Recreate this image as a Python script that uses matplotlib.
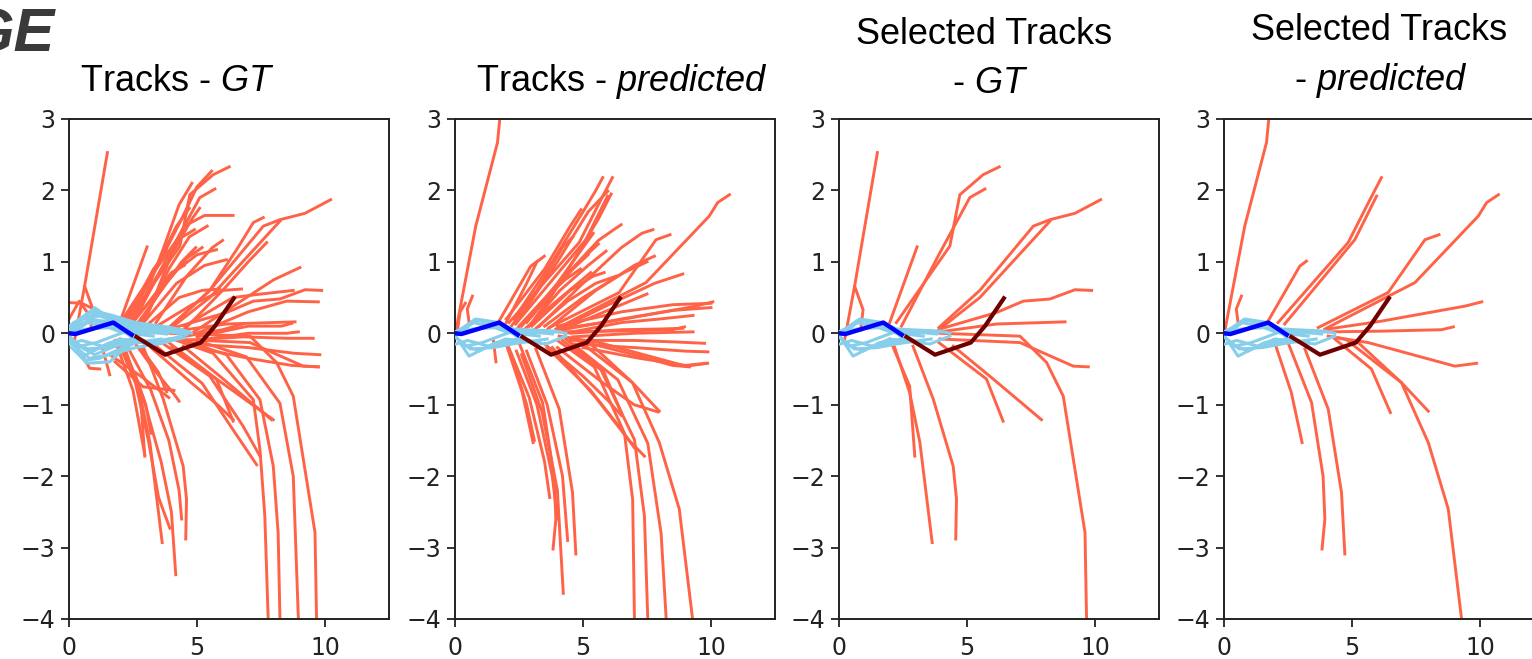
import matplotlib
matplotlib.use("Agg")
import matplotlib.pyplot as plt
from matplotlib import font_manager

# ---------------- data ----------------
ego_hist_x = [0.0, 0.25, 1.73, 2.45]
ego_hist_y = [0.0, -0.01, 0.15, -0.02]
ego_future_x = [2.63, 3.75, 5.15, 5.7, 6.44]
ego_future_y = [-0.05, -0.30, -0.13, 0.10, 0.49]

# light-blue history tracks of surrounding agents
hist_selected = [
    [(0.0, 0.0), (0.8, 0.2), (1.72, 0.15), (2.24, 0.06), (3.94, 0.03), (4.33, 0.0)],
    [(0.03, -0.04), (0.55, -0.32), (1.2, -0.2), (1.98, -0.08), (3.55, -0.15), (4.33, -0.04)],
    [(0.16, -0.13), (0.94, -0.25), (1.59, -0.13), (2.5, -0.08)],
    [(0.0, -0.01), (0.68, 0.06), (1.59, 0.08), (2.76, 0.03), (3.81, -0.01)],
    [(0.1, -0.08), (0.42, -0.18), (1.07, -0.13), (2.11, 0.01), (3.29, -0.04)],
    [(0.0, 0.02), (0.9, 0.18), (1.9, 0.1), (2.6, -0.1), (3.3, -0.12)],
    [(0.05, -0.15), (0.5, -0.1), (1.3, -0.18), (2.2, -0.12), (2.9, -0.1)],
    [(0.0, -0.05), (0.6, -0.22), (1.5, -0.2), (2.4, -0.14), (3.6, -0.08)],
    [(0.2, 0.0), (0.7, 0.15), (1.4, 0.1), (2.0, 0.02), (3.0, 0.0), (4.0, 0.02)],
]
hist_extra = [
    [(0.0, 0.0), (1.0, 0.36), (1.9, 0.13), (3.0, 0.08), (4.2, 0.03), (4.78, 0.0)],
    [(0.0, -0.05), (0.68, -0.42), (1.59, -0.4), (2.2, -0.2), (2.8, -0.1)],
    [(0.0, 0.0), (0.5, 0.2), (1.3, 0.25), (2.0, 0.1), (3.5, 0.05), (4.6, -0.02)],
    [(0.0, -0.1), (1.0, -0.3), (2.0, -0.15), (3.2, -0.12), (4.4, -0.05)],
    [(0.0, 0.05), (0.8, 0.3), (1.5, 0.2), (2.5, 0.12), (3.8, 0.06)],
    [(0.1, -0.2), (0.6, -0.38), (1.2, -0.35), (1.8, -0.25), (2.4, -0.15)],
    [(0.0, 0.1), (0.9, 0.32), (1.7, 0.25), (2.6, 0.15), (4.0, 0.08), (4.7, 0.02)],
    [(0.0, -0.12), (0.8, -0.35), (1.6, -0.3), (2.6, -0.2), (3.6, -0.14), (4.5, -0.06)],
    [(0.2, 0.15), (1.1, 0.28), (2.2, 0.18), (3.3, 0.1), (4.4, 0.05)],
]

# red future tracks: ground truth (selected subset + remaining)
gt_selected = [
    [(0.2, -0.13), (0.61, 0.66), (1.5, 2.53)],
    [(0.61, 0.66), (0.94, 0.33), (0.85, 0.05)],
    [(1.98, 0.15), (3.05, 1.21)],
    [(2.24, 0.15), (4.33, 1.22), (4.72, 1.94), (5.63, 2.22), (6.26, 2.33)],
    [(2.44, 0.10), (3.9, 1.1), (5.11, 1.9), (5.7, 2.02)],
    [(3.9, 0.08), (5.5, 0.6), (7.59, 1.5), (8.24, 1.59), (9.22, 1.68), (10.22, 1.87)],
    [(3.9, 0.05), (5.5, 0.5), (8.24, 1.57)],
    [(3.94, 0.06), (6.15, 0.29), (7.2, 0.45), (8.24, 0.48), (9.22, 0.61), (9.87, 0.6)],
    [(3.94, 0.02), (6.15, 0.13), (8.83, 0.16)],
    [(3.94, 0.0), (7.07, -0.04), (8.11, -0.41), (8.76, -0.88), (9.61, -2.79), (9.67, -4.0)],
    [(3.94, -0.08), (7.07, -0.13), (9.15, -0.46), (9.74, -0.47)],
    [(3.9, -0.13), (5.76, -0.64), (6.41, -1.23)],
    [(4.46, -0.18), (5.89, -0.6), (7.91, -1.21)],
    [(1.98, -0.08), (2.76, -0.74), (2.96, -1.72)],
    [(2.11, -0.13), (2.76, -0.83), (3.16, -1.53), (3.64, -2.93)],
    [(2.89, -0.18), (3.68, -0.92), (4.46, -1.86), (4.59, -2.32), (4.56, -2.88)],
]
gt_extra = [
    [(2.0, 0.1), (3.4, 0.9), (4.4, 1.6), (5.0, 2.05), (5.57, 2.27)],
    [(2.3, 0.1), (3.6, 0.9), (4.5, 1.5), (5.3, 1.65), (6.41, 1.65)],
    [(2.1, 0.2), (3.2, 0.8), (4.2, 1.3), (4.9, 1.45)],
    [(2.5, 0.15), (3.9, 0.8), (5.0, 1.1), (5.76, 1.17)],
    [(2.8, 0.1), (4.2, 0.7), (5.3, 0.95), (6.15, 1.03)],
    [(2.2, 0.15), (3.3, 0.9), (3.85, 1.15)],
    [(3.0, 0.1), (4.3, 0.5), (5.2, 0.6), (5.89, 0.62)],
    [(3.2, 0.05), (4.8, 0.4), (6.0, 0.6), (6.74, 0.62)],
    [(2.4, 0.2), (3.5, 1.0), (4.2, 1.5), (4.7, 1.75)],
    [(2.6, 0.1), (3.8, 0.7), (4.6, 1.05), (5.2, 1.2)],
    [(2.2, 0.05), (3.3, 0.5), (4.0, 0.85), (4.5, 0.95)],
    [(3.0, 0.2), (4.0, 1.1), (4.8, 1.6), (5.1, 1.75)],
    [(2.7, 0.25), (3.7, 1.2), (4.3, 1.8), (4.8, 2.1)],
    [(3.4, 0.15), (4.6, 0.8), (5.6, 1.2), (6.0, 1.3)],
    [(2.9, 0.15), (3.9, 0.9), (4.7, 1.35), (5.4, 1.5)],
    [(2.6, 0.05), (3.5, 0.55), (4.4, 1.0), (4.95, 1.2)],
    [(4.0, 0.1), (5.5, 0.6), (6.6, 1.2), (7.2, 1.55), (7.59, 1.62)],
    [(4.5, 0.05), (6.0, 0.6), (7.0, 1.0), (7.72, 1.27)],
    [(4.8, 0.0), (6.5, 0.4), (8.0, 0.75), (9.02, 0.92)],
    [(4.5, 0.1), (6.4, 0.5), (7.5, 0.55), (8.76, 0.6)],
    [(5.0, 0.0), (7.0, 0.3), (8.5, 0.45), (9.74, 0.44)],
    [(5.0, -0.05), (7.0, 0.1), (8.3, 0.1), (8.7, 0.14)],
    [(5.0, -0.1), (7.0, 0.0), (8.5, 0.0), (8.96, 0.02)],
    [(4.5, -0.1), (6.8, -0.05), (8.5, -0.07), (9.54, -0.07)],
    [(4.7, -0.15), (7.0, -0.2), (8.8, -0.28), (9.8, -0.3)],
    [(5.0, -0.2), (7.0, -0.35), (8.7, -0.45), (9.74, -0.47)],
    [(4.4, -0.05), (6.0, 0.05), (6.8, 0.13)],
    [(3.5, -0.1), (5.5, -0.6), (6.8, -1.3), (7.46, -1.72)],
    [(3.3, -0.15), (5.2, -0.7), (6.5, -1.4), (7.33, -1.84)],
    [(4.0, -0.2), (6.0, -0.7), (7.98, -1.21)],
    [(3.2, -0.2), (4.8, -0.7), (5.8, -1.0), (6.41, -1.21)],
    [(2.8, -0.2), (3.5, -0.55), (3.81, -0.82)],
    [(2.5, -0.1), (3.3, -0.5), (4.1, -0.85), (4.3, -0.95)],
    [(4.2, -0.1), (5.63, -0.28), (7.2, -0.93), (7.46, -1.63), (7.65, -2.56), (7.78, -4.0)],
    [(4.5, -0.1), (6.15, -0.3), (7.46, -0.93), (7.98, -1.86), (8.17, -2.8), (8.24, -4.0)],
    [(5.0, -0.1), (6.93, -0.33), (8.24, -0.98), (8.76, -2.0), (8.96, -4.0)],
    [(1.9, -0.1), (2.6, -0.7), (3.1, -1.5), (3.5, -2.3), (3.94, -2.73)],
    [(2.1, -0.15), (2.9, -0.9), (3.6, -1.8), (4.0, -2.5), (4.17, -3.38)],
    [(1.8, -0.1), (2.5, -0.8), (2.96, -1.7)],
    [(2.0, -0.2), (2.6, -0.6), (3.0, -1.0), (3.2, -1.4)],
    [(2.3, -0.2), (3.2, -0.8), (3.9, -1.5), (4.3, -2.2), (4.4, -2.6)],
    [(1.6, -0.3), (2.8, -0.6), (3.9, -0.9)],
    [(1.8, -0.4), (2.9, -0.75), (4.1, -0.8)],
    [(0.0, 0.43), (0.5, 0.42), (1.2, 0.3), (1.8, 0.2)],
    [(0.5, -0.3), (0.81, -0.49), (1.2, -0.5)],
    [(1.3, -0.2), (1.59, -0.58)],
    [(0.0, 0.2), (0.4, 0.45), (0.7, 0.3)],
]

# red future tracks: predicted (selected subset + remaining)
pred_selected = [
    [(0.03, 0.03), (0.81, 1.5), (1.66, 2.67), (1.75, 3.0), (1.8, 3.3)],
    [(0.55, 0.15), (0.48, 0.34), (0.68, 0.52)],
    [(1.72, 0.17), (2.96, 0.94), (3.22, 1.01)],
    [(2.11, 0.15), (4.85, 1.27), (5.7, 1.87), (6.15, 2.18)],
    [(2.37, 0.13), (5.11, 1.31), (5.96, 1.92)],
    [(3.68, 0.08), (6.41, 0.57), (7.85, 1.31), (8.4, 1.38)],
    [(3.94, 0.06), (7.46, 0.71), (9.93, 1.64), (10.26, 1.83), (10.72, 1.94)],
    [(4.07, 0.06), (6.15, 0.17), (9.41, 0.38), (10.07, 0.44)],
    [(4.07, 0.02), (6.15, 0.03), (8.5, 0.05), (8.96, 0.09)],
    [(4.07, -0.04), (5.63, -0.13), (9.02, -0.46), (9.87, -0.42)],
    [(4.3, -0.05), (5.24, -0.13), (6.93, -0.69), (7.98, -1.53), (8.76, -2.46), (9.28, -4.0)],
    [(4.33, -0.08), (5.76, -0.5), (6.5, -1.11)],
    [(4.85, -0.11), (6.93, -0.69), (7.98, -1.09)],
    [(1.98, -0.13), (2.63, -0.83), (3.05, -1.53)],
    [(2.5, -0.13), (3.42, -0.97), (3.87, -2.0), (3.94, -2.6), (3.83, -3.02)],
    [(3.16, -0.22), (4.07, -1.06), (4.59, -2.23), (4.72, -3.09)],
]
pred_extra = [
    [(2.3, 0.2), (3.8, 1.0), (5.0, 1.7), (5.5, 2.0), (5.77, 2.18)],
    [(2.5, 0.2), (4.0, 1.0), (5.2, 1.7), (5.97, 1.99)],
    [(2.0, 0.2), (3.5, 0.9), (4.5, 1.5), (4.92, 1.73)],
    [(2.8, 0.15), (4.3, 0.8), (5.6, 1.3), (6.2, 1.45), (6.49, 1.52)],
    [(3.3, 0.1), (5.0, 0.7), (6.5, 1.2), (7.3, 1.4), (7.73, 1.45)],
    [(3.6, 0.05), (5.5, 0.6), (7.0, 0.95), (7.79, 1.08)],
    [(4.0, 0.05), (6.0, 0.4), (7.8, 0.7), (8.9, 0.83)],
    [(2.0, 0.15), (2.8, 0.7), (3.2, 1.0), (3.49, 1.08)],
    [(3.0, 0.1), (4.5, 0.6), (5.4, 0.8), (5.83, 0.85)],
    [(2.6, 0.1), (4.0, 0.7), (5.0, 1.2), (5.4, 1.4)],
    [(3.2, 0.2), (4.6, 1.0), (5.6, 1.6), (6.1, 1.95)],
    [(2.4, 0.05), (3.6, 0.5), (4.6, 0.9), (5.2, 1.1)],
    [(3.5, 0.1), (5.0, 0.5), (6.6, 0.85), (7.5, 1.0)],
    [(2.2, 0.1), (3.2, 0.6), (4.2, 1.2), (4.6, 1.35)],
    [(4.5, 0.1), (6.5, 0.4), (7.5, 0.55)],
    [(2.9, 0.1), (4.1, 0.6), (5.2, 0.95), (5.9, 1.15)],
    [(3.1, 0.05), (4.4, 0.45), (5.5, 0.7), (6.3, 0.8)],
    [(2.7, 0.05), (3.8, 0.4), (4.8, 0.7), (5.3, 0.85)],
    [(2.5, 0.1), (3.4, 0.45), (4.3, 0.75), (4.9, 0.9)],
    [(3.0, 0.15), (4.2, 0.75), (5.0, 1.05), (5.6, 1.25)],
    [(4.0, 0.1), (6.5, 0.3), (8.5, 0.4), (10.0, 0.42)],
    [(4.2, 0.05), (6.5, 0.2), (8.5, 0.32), (10.0, 0.36)],
    [(4.5, 0.0), (6.5, 0.05), (8.0, 0.06), (8.9, 0.07)],
    [(4.6, -0.05), (7.0, 0.0), (9.3, 0.02)],
    [(4.5, -0.1), (7.0, -0.1), (8.5, -0.12), (9.75, -0.14)],
    [(4.7, -0.15), (7.0, -0.2), (9.0, -0.25), (9.88, -0.26)],
    [(5.0, -0.2), (7.2, -0.35), (9.0, -0.45), (9.8, -0.42)],
    [(4.8, -0.1), (7.0, -0.3), (8.5, -0.45), (9.16, -0.47)],
    [(4.3, 0.0), (6.5, 0.15), (8.0, 0.2), (9.3, 0.25)],
    [(4.0, -0.2), (5.8, -0.7), (7.0, -1.0), (7.92, -1.1)],
    [(3.8, -0.2), (5.5, -0.9), (6.8, -1.5), (7.4, -1.72)],
    [(3.6, -0.2), (5.3, -0.8), (6.4, -1.3), (7.0, -1.6)],
    [(3.5, -0.15), (5.0, -0.6), (6.0, -0.95), (6.5, -1.15)],
    [(4.0, -0.1), (5.44, -0.47), (6.62, -1.4), (6.94, -2.33), (7.01, -4.0)],
    [(4.2, -0.1), (5.7, -0.51), (7.01, -1.49), (7.4, -2.56), (7.53, -4.0)],
    [(4.6, -0.15), (6.36, -0.65), (7.53, -1.54), (8.05, -2.8), (8.25, -4.0)],
    [(2.6, -0.3), (3.4, -1.1), (4.0, -2.2), (4.23, -3.64)],
    [(2.2, -0.3), (2.8, -1.0), (3.1, -1.5)],
    [(2.4, -0.25), (3.2, -1.0), (3.8, -2.0), (4.0, -2.6)],
    [(2.1, -0.2), (2.9, -0.9), (3.5, -1.8), (3.7, -2.3)],
    [(2.8, -0.25), (3.6, -1.0), (4.2, -2.0), (4.4, -2.9)],
    [(0.1, 0.05), (0.2, 0.3), (0.4, 0.42)],
    [(1.5, -0.1), (1.6, -0.4)],
]

x_ticks = [0, 5, 10]
y_ticks = [3, 2, 1, 0, -1, -2, -3, -4]
panel_titles = [
    r"Tracks - $\mathit{GT}$",
    r"Tracks - $\mathit{predicted}$",
    "Selected Tracks\n" + r"- $\mathit{GT}$",
    "Selected Tracks\n" + r"- $\mathit{predicted}$",
]

# ---------------- style ----------------
available = {f.name for f in font_manager.fontManager.ttflist}
title_font = "Liberation Sans" if "Liberation Sans" in available else "DejaVu Sans"
plt.rcParams["mathtext.fontset"] = "custom"
plt.rcParams["mathtext.rm"] = title_font
plt.rcParams["mathtext.it"] = title_font + ":italic"

RED = "#ff6347"
LIGHT = "#87ceeb"
BLUE = "#0000ff"
MAROON = "#6e0000"

W, H = 1532, 659
fig = plt.figure(figsize=(W / 100, H / 100), dpi=100)

lefts_px = [69, 455, 839, 1224]
top_px, bottom_px, width_px = 119, 619, 320

panels = [
    (gt_selected + gt_extra, hist_selected + hist_extra),
    (pred_selected + pred_extra, hist_selected),
    (gt_selected, hist_selected),
    (pred_selected, hist_selected),
]

for i, (reds, hists) in enumerate(panels):
    ax = fig.add_axes([lefts_px[i] / W, 1 - bottom_px / H,
                       width_px / W, (bottom_px - top_px) / H])
    for tr in reds:
        ax.plot([p[0] for p in tr], [p[1] for p in tr], color=RED, lw=2.1,
                zorder=2)
    for tr in hists:
        ax.plot([p[0] for p in tr], [p[1] for p in tr], color=LIGHT, lw=2.2,
                zorder=3)
    ax.plot(ego_hist_x, ego_hist_y, color=BLUE, lw=3.2, zorder=4)
    ax.plot(ego_future_x, ego_future_y, color=MAROON, lw=3.0, zorder=4)
    ax.set_xlim(0, 12.5)
    ax.set_ylim(-4, 3)
    ax.set_xticks(x_ticks)
    ax.set_yticks(y_ticks)
    ax.tick_params(labelsize=17, length=6, width=1.3, colors="#222222", pad=4)
    ax.tick_params(axis="x", pad=6)
    for s in ax.spines.values():
        s.set_linewidth(1.4)
        s.set_color("#222222")

# titles
tkw = dict(fontsize=26, family=title_font, color="black", ha="center", va="baseline")
fig.text(177 / W, 1 - 91 / H, panel_titles[0], **tkw)
fig.text(622 / W, 1 - 91 / H, panel_titles[1], **tkw)
l1, l2 = panel_titles[2].split("\n")
fig.text(984 / W, 1 - 44 / H, l1, **tkw)
fig.text(990 / W, 1 - 93 / H, l2, **tkw)
l1, l2 = panel_titles[3].split("\n")
fig.text(1379 / W, 1 - 40 / H, l1, **tkw)
fig.text(1381 / W, 1 - 90 / H, l2, **tkw)

# cropped heading fragment at top-left
fig.text(54 / W, 1 - 52 / H, "GE", fontsize=44, fontweight="bold", fontstyle="italic",
         family=title_font, color="#3a3a3a", ha="right", va="baseline")

fig.savefig("out.png", dpi=100)
